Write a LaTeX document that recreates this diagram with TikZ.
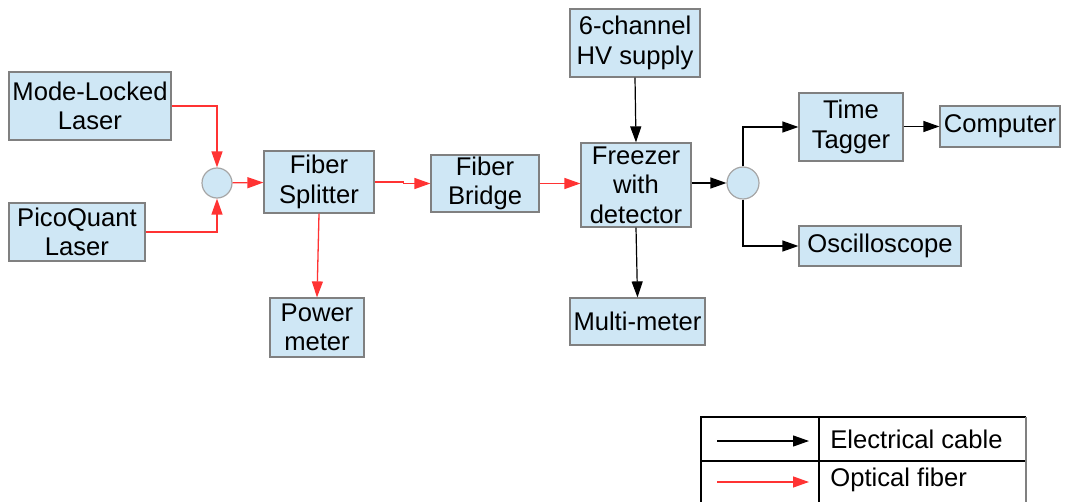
\documentclass[tikz,border=0pt]{standalone}
\usepackage{fontspec}
\setmainfont{Liberation Sans}
\usetikzlibrary{arrows.meta}
\definecolor{boxblue}{RGB}{207,231,245}
\definecolor{boxline}{RGB}{128,128,128}
\definecolor{fiberred}{RGB}{255,51,51}
\tikzset{
    unitbox/.style={draw=boxline, fill=boxblue, line width=0.6pt, inner sep=0pt, align=center, font=\fontsize{12.8}{14.8}\selectfont},
    junction/.style={circle, draw=boxline!70, fill=boxblue, line width=0.6pt, minimum size=#1, inner sep=0pt},
    fiber/.style={draw=fiberred, line width=0.65pt, -{Triangle[length=8pt,width=5.5pt]}},
    cable/.style={draw=black, line width=0.6pt, -{Triangle[length=8pt,width=5.5pt]}},
    legendtext/.style={anchor=west, inner sep=0pt, font=\fontsize{12.8}{14.8}\selectfont}
}
\begin{document}
\begin{tikzpicture}[x=0.5pt, y=-0.5pt]
    \useasboundingbox (0,0) rectangle (1065,502);

    % lichtquellen
    \node[unitbox, minimum width=81pt, minimum height=34pt] (mll) at (90,106) {Mode-Locked\\Laser};
    \node[unitbox, minimum width=68pt, minimum height=29pt] (pql) at (77,232) {PicoQuant\\Laser};
    \node[junction=15pt] (mix) at (217,183) {};

    % glasfaserstrecke
    \node[unitbox, minimum width=55pt, minimum height=31pt] (split) at (319,182) {Fiber\\Splitter};
    \node[unitbox, minimum width=54pt, minimum height=28.5pt] (bridge) at (485,183.5) {Fiber\\Bridge};
    \node[unitbox, minimum width=47pt, minimum height=29.5pt] (power) at (317,327.5) {Power\\meter};

    % detektor
    \node[unitbox, minimum width=65pt, minimum height=34pt] (hv) at (635,43) {6-channel\\HV supply};
    \node[unitbox, minimum width=55pt, minimum height=42pt] (freezer) at (636,185) {Freezer\\with\\detector};
    \node[unitbox, minimum width=67.5pt, minimum height=23.5pt] (multi) at (637.5,321.5) {Multi-meter};
    \node[junction=16pt] (fork) at (743,183) {};

    % auslese
    \node[unitbox, minimum width=52pt, minimum height=34pt] (tagger) at (851,127) {Time\\Tagger};
    \node[unitbox, minimum width=60pt, minimum height=20.5pt] (pc) at (1000,126.5) {Computer};
    \node[unitbox, minimum width=81pt, minimum height=20pt] (osc) at (880,246) {Oscilloscope};

    % optische verbindungen
    \draw[fiber] (mll.east) -| (mix.north);
    \draw[fiber] (pql.east) -| (mix.south);
    \draw[fiber] (mix) -- (split);
    \draw[fiber] (split.east) -- ++(29,0) |- (bridge.west);
    \draw[fiber] (split.south) -- (power.north);
    \draw[fiber] (bridge.east) -- (bridge.east -| freezer.west);

    % elektrische verbindungen
    \draw[cable] (hv.south) -- (freezer.north);
    \draw[cable] (freezer.south) -- (multi.north);
    \draw[cable] (freezer.east |- fork) -- (fork.west);
    \draw[cable] (fork.north) |- (tagger.west);
    \draw[cable] (fork.south) |- (osc.west);
    \draw[cable] (tagger.east |- pc) -- (pc.west);

    % legende
    \draw[line width=0.6pt] (1026,417) -- (701,417) -- (701,505);
    \draw[line width=0.6pt] (701,461) -- (1026,461);
    \draw[line width=0.6pt] (819,417) -- (819,505);
    \draw[line width=0.6pt, boxline] (1026,417) -- (1026,505);
    \coordinate (ecstart) at (717,441);
    \coordinate (ecend) at (809,441);
    \coordinate (ofstart) at (717,482);
    \coordinate (ofend) at (809,482);
    \draw[cable] (ecstart) -- (ecend);
    \draw[fiber] (ofstart) -- (ofend);
    \node[legendtext] (eclabel) at (830,439) {Electrical cable};
    \node[legendtext] (oflabel) at (830,480) {Optical fiber};
\end{tikzpicture}
\end{document}
